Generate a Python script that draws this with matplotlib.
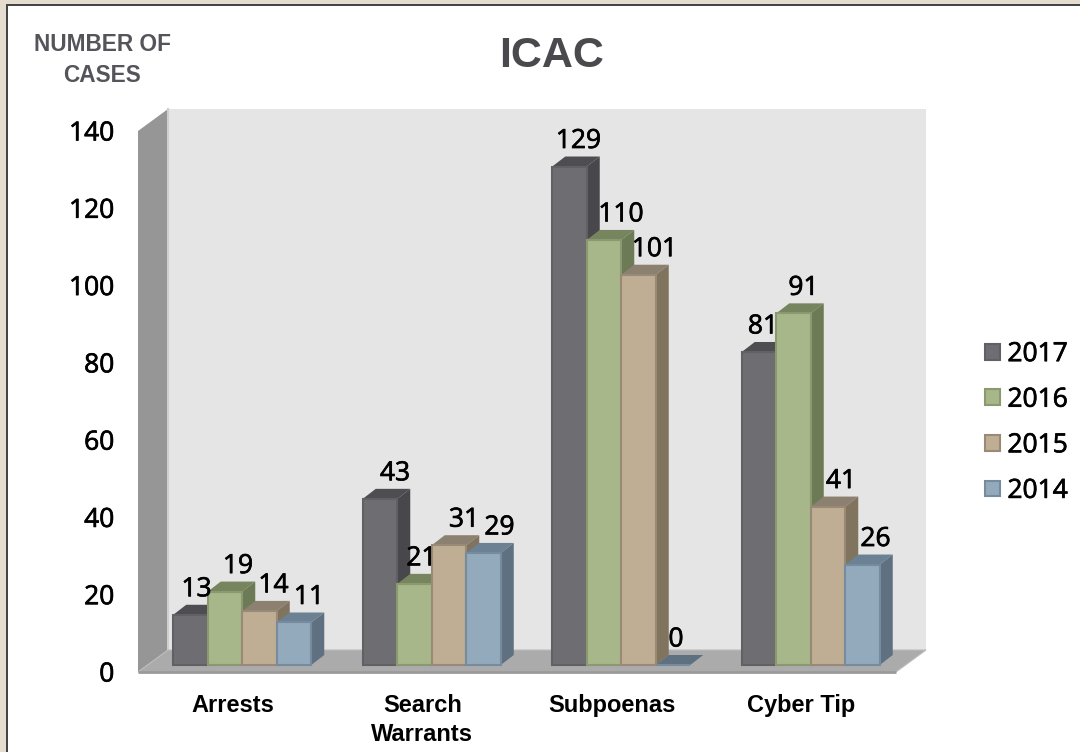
# -*- coding: utf-8 -*-
import matplotlib
matplotlib.use("Agg")
import matplotlib.pyplot as plt
import matplotlib.patheffects as pe
from matplotlib.patches import Patch, Rectangle

categories = ["Arrests", "Search\nWarrants", "Subpoenas", "Cyber Tip"]
years = ["2017", "2016", "2015", "2014"]
cases_2017 = [13, 43, 129, 81]
cases_2016 = [19, 21, 110, 91]
cases_2015 = [14, 31, 101, 41]
cases_2014 = [11, 29, 0, 26]
y_ticks = [0, 20, 40, 60, 80, 100, 120, 140]

series = [cases_2017, cases_2016, cases_2015, cases_2014]
# front, edge, top, side
colors = [("#6e6d72", "#616065", "#4e4d51", "#48474b"),
          ("#a8b78a", "#8b9970", "#76855d", "#6c7a55"),
          ("#bfae94", "#988a76", "#8c8070", "#80745f"),
          ("#93aabd", "#768c9e", "#6c8294", "#5f7180")]
# label nudges in pixels, series by category
nudge_x = [[6, 15, 9, 4], [13, 7, 17, 10], [14, 15, 16, 13], [15, 16, 3, 13]]

W, H = 1080, 752
fig = plt.figure(figsize=(W/100, H/100), dpi=100, facecolor="white")
plt.rcParams["font.family"] = ["Open Sans", "DejaVu Sans"]
BOLD = ["Liberation Sans", "DejaVu Sans"]
heavier = [pe.withStroke(linewidth=0.5, foreground="black")]

# page border, only on top and left
fig.add_artist(Rectangle((0, 1-4/H), 1, 4/H, transform=fig.transFigure, color="#e5ddd0", lw=0))
fig.add_artist(Rectangle((0, 0), 6/W, 1, transform=fig.transFigure, color="#e5ddd0", lw=0))
fig.add_artist(Rectangle((6/W, 1-6/H), 1, 2/H, transform=fig.transFigure, color="#454545", lw=0))
fig.add_artist(Rectangle((6/W, 0), 2/W, 1-4/H, transform=fig.transFigure, color="#454545", lw=0))

# axes is the front plane of the 3d box
ax = fig.add_axes([138/W, (H-672)/H, 758/W, 541/H])
ax.set_xlim(0, 4)
ax.set_ylim(0, 140)
ax.patch.set_visible(False)
for s in ax.spines.values():
    s.set_visible(False)

PX = 4/758.    # data units per pixel, x
PY = 140/541.  # data units per pixel, y
wall_dx, wall_dy = 30*PX, 22*PY
bar_off_x, bar_off_y = 9.5*PX, 7*PY
bar_dx, bar_dy = 13*PX, 10*PY
bar_w = 34.5*PX
gap = (1 - 4*bar_w)/2

# walls and floor
ax.fill([0, wall_dx, wall_dx, 0], [0, wall_dy, 140+wall_dy, 140], color="#969696", lw=0, zorder=1, clip_on=False)
ax.fill([wall_dx, 4+wall_dx, 4+wall_dx, wall_dx], [wall_dy, wall_dy, 140+wall_dy, 140+wall_dy],
        color="#e5e5e5", lw=0, zorder=1, clip_on=False)
ax.plot([wall_dx, wall_dx], [wall_dy, 140+wall_dy], color="#cfcfcf", lw=1.5, zorder=1, clip_on=False)
ax.fill([0, wall_dx, 4+wall_dx, 4], [0, wall_dy, wall_dy, 0], color="#ababab", ec="#bcbcbc", lw=0.8,
        zorder=2, clip_on=False)
ax.plot([0, 4], [0, 0], color="#9a9a9a", lw=2, zorder=2, clip_on=False, solid_capstyle="butt")

for j, values in enumerate(series):
    front, edge, top, side = colors[j]
    xs = [i + gap + j*bar_w + bar_off_x for i in range(len(values))]
    for i, (x, v) in enumerate(zip(xs, values)):
        y = bar_off_y + v
        if v == 0:
            ax.fill([x, x+bar_w, x+bar_w+bar_dx, x+bar_dx],
                    [bar_off_y, bar_off_y, bar_off_y+bar_dy, bar_off_y+bar_dy],
                    color=side, lw=0, zorder=3+j, clip_on=False)
        else:
            ax.fill([x, x+bar_dx, x+bar_w+bar_dx, x+bar_w],
                    [y, y+bar_dy, y+bar_dy, y], color=top, lw=0, zorder=3+j, clip_on=False)
            ax.fill([x+bar_w, x+bar_w+bar_dx, x+bar_w+bar_dx, x+bar_w],
                    [bar_off_y, bar_off_y+bar_dy, y+bar_dy, y], color=side, lw=0, zorder=3+j, clip_on=False)
        ax.annotate(str(v), (x+bar_w/2, y), xytext=(nudge_x[j][i]*0.72, 25*0.72),
                    textcoords="offset points", ha="center", va="center",
                    fontsize=19, color="black", zorder=20, annotation_clip=False,
                    path_effects=heavier)
    ax.bar(xs, values, width=bar_w, bottom=bar_off_y, align="edge", color=front, edgecolor=edge,
           linewidth=1.5, zorder=3+j, clip_on=False)

ax.set_yticks(y_ticks)
ax.set_xticks([i + 0.5 for i in range(len(categories))])
ax.set_xticklabels(categories, fontsize=17, fontweight="bold", family=BOLD, linespacing=1.32)
ax.tick_params(axis="y", length=0, pad=17, labelsize=19)
ax.tick_params(axis="x", length=0, pad=16)
for t in ax.get_yticklabels():
    t.set_path_effects(heavier)

fig.text(552/W, 1-56/H, "ICAC", ha="center", va="center", fontsize=31, fontweight="bold",
         family=BOLD, color="#4a494e")
fig.text(102/W, 1-60/H, "NUMBER OF\nCASES", ha="center", va="center", fontsize=16.3, fontweight="bold",
         family=BOLD, color="#55545a", linespacing=1.4)

handles = [Patch(facecolor=c[0], edgecolor=c[1], linewidth=1.5) for c in colors]
leg = fig.legend(handles, years, loc="center left", bbox_to_anchor=(985/W, 1-423/H), frameon=False,
                 fontsize=19, handlelength=0.55, handleheight=0.55, handletextpad=0.3, labelspacing=0.78,
                 borderpad=0, borderaxespad=0)
for t in leg.get_texts():
    t.set_path_effects(heavier)

fig.savefig("out.png", dpi=100)
